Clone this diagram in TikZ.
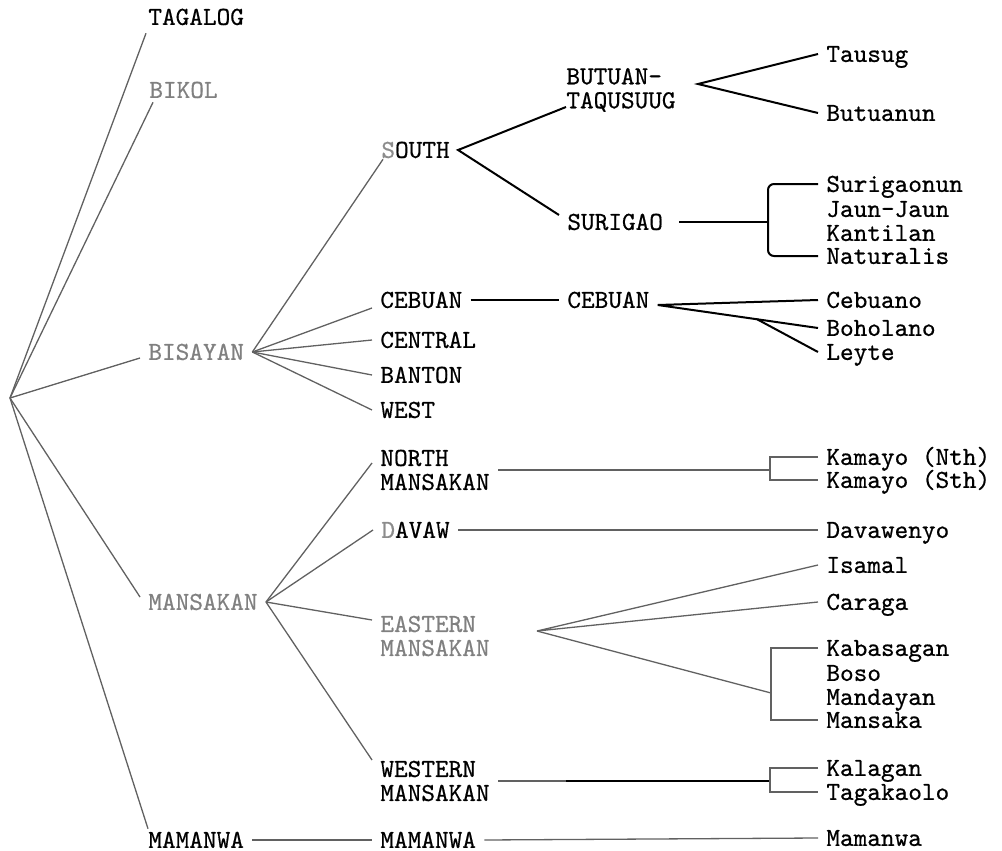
\documentclass[tikz,border=0pt]{standalone}
\usepackage{fontspec}
\setmonofont{lmmono10-regular.otf}[FakeBold=0.6]
\usetikzlibrary{calc}

\begin{document}
\begin{tikzpicture}[
        x=0.5pt, y=-0.5pt,
        lang/.style={font=\ttfamily\fontsize{13}{12}\selectfont, anchor=west,
            inner xsep=4pt, inner ysep=2pt, text height=7.9pt, text depth=0pt},
        pale/.style={lang, text=black!50},
        pair/.style={lang, align=left, text height=, text depth=},
        faint/.style={draw=black!62, line width=0.65pt},
        ink/.style={draw=black, line width=1pt},
    ]
    \useasboundingbox (0,0) rectangle (1002,851);
    \coordinate (root) at (10,398);

    % first level
    \node[lang] (tagalog) at (140,17) {TAGALOG};
    \node[pale] (bikol) at (141,90) {BIKOL};
    \node[pale] (bisayan) at (140,352) {BISAYAN};
    \node[pale] (mansakan) at (140,602) {MANSAKAN};
    \node[lang] (mamanwa) at (140,840) {MAMANWA};

    \draw[faint] (root) -- ([xshift=3pt,yshift=-2pt]tagalog.south west);
    \draw[faint] (root) -- ([xshift=6pt]bikol.south west);
    \draw[faint] (root) -- ([yshift=-3pt]bisayan.west);
    \draw[faint] (root) -- ([yshift=2.5pt]mansakan.west);
    \draw[faint] (root) -- ([xshift=4pt,yshift=-0.5pt]mamanwa.north west);

    % second level
    \node[lang] (south) at (373,150) {{\color{black!45}S}OUTH};
    \node[lang] (cebuanA) at (372,300) {CEBUAN};
    \node[lang] (central) at (372,340) {CENTRAL};
    \node[lang] (banton) at (372,375) {BANTON};
    \node[lang] (westB) at (372,410) {WEST};
    \node[pair] (northM) at (372,470) {NORTH\\MANSAKAN};
    \node[lang] (davaw) at (373,530) {{\color{black!45}D}AVAW};
    \node[pair, text=black!50] (easternM) at (372,636) {EASTERN\\MANSAKAN};
    \node[pair] (westernM) at (372,781) {WESTERN\\MANSAKAN};
    \node[lang] (mamanwaB) at (372,840) {MAMANWA};

    \draw[faint] (bisayan.east) -- ([xshift=5pt,yshift=1.5pt]south.south west);
    \draw[faint] (bisayan.east) -- ([yshift=-4pt]cebuanA.west);
    \draw[faint] (bisayan.east) -- (central.west);
    \draw[faint] (bisayan.east) -- (banton.west);
    \draw[faint] (bisayan.east) -- (westB.west);
    \draw[faint] (mansakan.east) -- ([yshift=3.5pt]northM.west);
    \draw[faint] (mansakan.east) -- (davaw.west);
    \draw[faint] (mansakan.east) -- ([yshift=8pt]easternM.west);
    \draw[faint] (mansakan.east) -- ([yshift=10.5pt]westernM.west);
    \draw[faint] (mamanwa.east) -- (mamanwaB.west);

    % third level
    \node[pair] (butuan) at (558,90) {BUTUAN-\\TAQUSUUG};
    \node[lang] (surigao) at (559,222) {SURIGAO};
    \node[lang] (cebuanB) at (559,300) {CEBUAN};

    \draw[ink] ([xshift=4pt,yshift=-8.5pt]butuan.west) -- (south.east)
        -- ([yshift=3.5pt]surigao.west);
    \draw[ink] (cebuanA.east) -- (cebuanB.west);

    % languages
    \node[lang] (tausug) at (818,54) {Tausug};
    \node[lang] (butuanun) at (818,113) {Butuanun};
    \node[lang] (surigaonun) at (818,184) {Surigaonun};
    \node[lang] (jaun) at (818,209) {Jaun-Jaun};
    \node[lang] (kantilan) at (818,233) {Kantilan};
    \node[lang] (naturalis) at (818,256) {Naturalis};
    \node[lang] (cebuano) at (818,300) {Cebuano};
    \node[lang] (boholano) at (818,328) {Boholano};
    \node[lang] (leyte) at (818,352) {Leyte};
    \node[lang] (kamayoN) at (818,457) {Kamayo (Nth)};
    \node[lang] (kamayoS) at (818,480) {Kamayo (Sth)};
    \node[lang] (davawenyo) at (818,530) {Davawenyo};
    \node[lang] (isamal) at (818,565) {Isamal};
    \node[lang] (caraga) at (818,602) {Caraga};
    \node[lang] (kabasagan) at (818,648) {Kabasagan};
    \node[lang] (boso) at (818,673) {Boso};
    \node[lang] (mandayan) at (818,697) {Mandayan};
    \node[lang] (mansaka) at (818,720) {Mansaka};
    \node[lang] (kalagan) at (818,768) {Kalagan};
    \node[lang] (tagakaolo) at (818,792) {Tagakaolo};
    \node[lang] (mamanwaC) at (818,838) {Mamanwa};

    \coordinate (bfork) at (698,84);
    \coordinate (sbr) at (768,222);
    \coordinate (kbr) at (770,470);
    \coordinate (efork) at (537,631);
    \coordinate (ebr) at (771,693);
    \coordinate (wbr) at (770,781);

    \draw[ink] (tausug.west) -- (bfork) -- (butuanun.west);
    \draw[ink] ([xshift=4pt]surigao.east) -- (sbr);
    \draw[ink, rounded corners=3pt] (surigaonun.west) -| (sbr) |- (naturalis.west);
    \draw[ink] (cebuano.west) -- ([yshift=-2.5pt]cebuanB.east) -- (boholano.west);
    \draw[ink] ($([yshift=-2.5pt]cebuanB.east)!0.62!(boholano.west)$) -- (leyte.west);

    \draw[faint] (northM.east) -- (kbr);
    \draw[faint] (kamayoN.west) -| (kbr) |- (kamayoS.west);
    \draw[faint] (davaw.east) -- (davawenyo.west);
    \draw[faint] (isamal.west) -- (efork) -- (caraga.west);
    \draw[faint] (efork) -- (ebr);
    \draw[faint] (kabasagan.west) -| (ebr) |- (mansaka.west);
    \draw[faint] (westernM.east) -- (wbr);
    \draw[ink] ($(westernM.east)!0.25!(wbr)$) -- (wbr);
    \draw[faint] (kalagan.west) -| (wbr) |- (tagakaolo.west);
    \draw[faint] (mamanwaB.east) -- (mamanwaC.west);
    
\end{tikzpicture}
\end{document}
